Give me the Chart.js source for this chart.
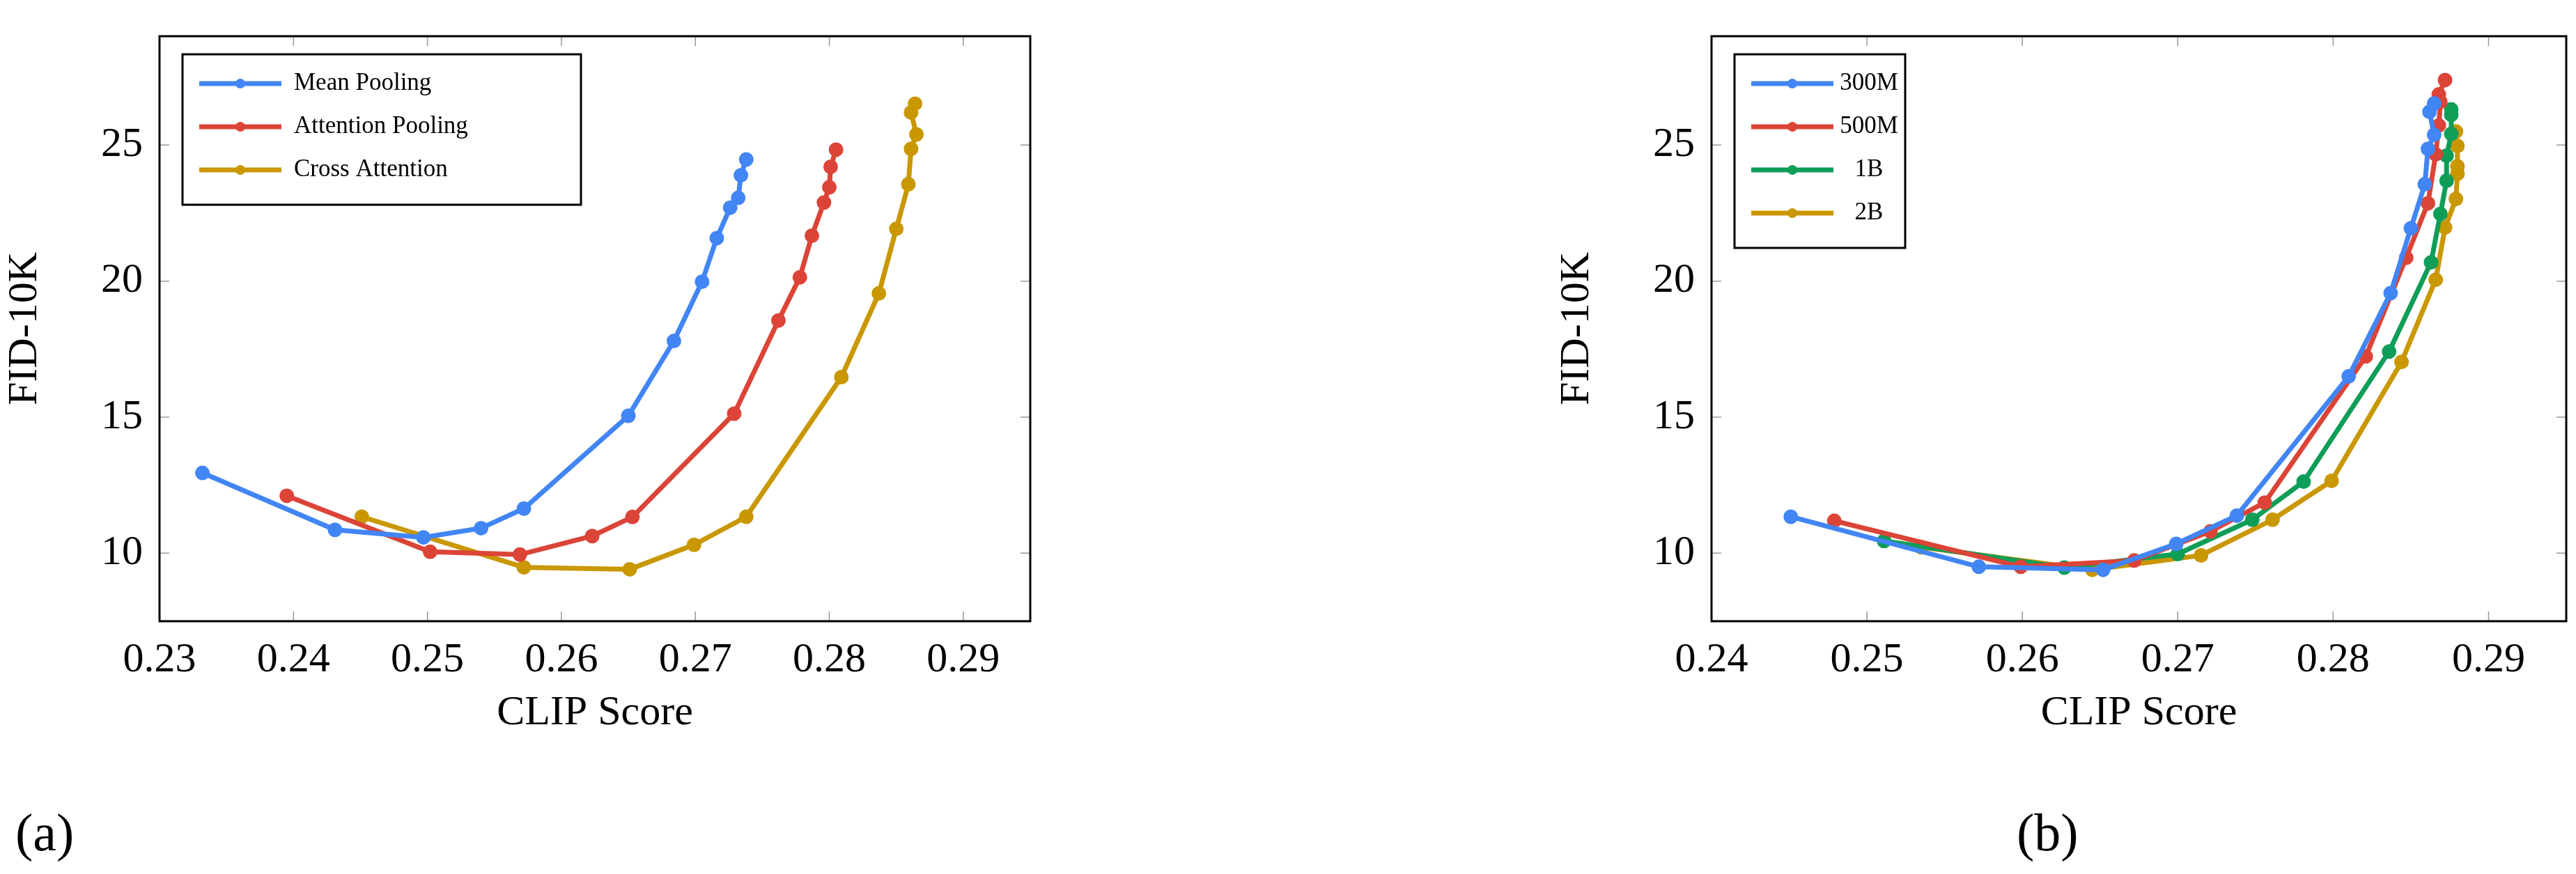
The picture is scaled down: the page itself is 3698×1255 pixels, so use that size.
<!DOCTYPE html>
<html><head><meta charset="utf-8">
<script src="https://cdn.jsdelivr.net/npm/chart.js@4/dist/chart.umd.min.js"></script>
<style>
body{margin:0;background:#fff;width:3698px;height:1255px;position:relative;overflow:hidden}
.c{position:absolute;top:0}
.lab{position:absolute;font-family:"Liberation Serif",serif;font-size:76px}
</style></head><body>
<div class="c" style="left:0;width:1530px;height:1060px"><canvas id="a"></canvas></div>
<div class="c" style="left:2228px;width:1470px;height:1060px"><canvas id="b"></canvas></div>
<div class="lab" style="left:22px;top:1152px">(a)</div>
<div class="lab" style="left:2895px;top:1152px">(b)</div>
<script>
const meanX=[0.2332,0.2431,0.2497,0.2540,0.2572,0.2650,0.2684,0.2705,0.2716,0.2726,0.2732,0.2734,0.2738];
const meanY=[12.95,10.86,10.58,10.92,11.64,15.05,17.80,19.98,21.58,22.70,23.06,23.89,24.47];
const attnX=[0.2395,0.2502,0.2569,0.2623,0.2653,0.2729,0.2762,0.2778,0.2787,0.2796,0.2800,0.2801,0.2805];
const attnY=[12.11,10.05,9.95,10.63,11.33,15.13,18.55,20.14,21.67,22.89,23.45,24.20,24.83];
const crossX=[0.2451,0.2572,0.2651,0.2699,0.2738,0.2809,0.2837,0.2850,0.2859,0.2861,0.2865,0.2861,0.2864];
const crossY=[11.34,9.48,9.41,10.31,11.34,16.47,19.55,21.92,23.56,24.86,25.39,26.20,26.52];
const m300X=[0.2451,0.2572,0.2652,0.2699,0.2738,0.2810,0.2837,0.2850,0.2859,0.2861,0.2865,0.2862,0.2865];
const m300Y=[11.34,9.50,9.39,10.34,11.38,16.50,19.56,21.94,23.56,24.86,25.38,26.22,26.53];
const m500X=[0.2479,0.2599,0.2672,0.2721,0.2756,0.2821,0.2847,0.2861,0.2866,0.2868,0.2869,0.2868,0.2872];
const m500Y=[11.19,9.50,9.73,10.80,11.86,17.23,20.86,22.86,24.66,25.72,26.59,26.86,27.39];
const b1X=[0.2511,0.2627,0.2700,0.2748,0.2781,0.2836,0.2863,0.2869,0.2873,0.2873,0.2876,0.2876,0.2876];
const b1Y=[10.45,9.47,9.97,11.23,12.63,17.41,20.69,22.47,23.69,24.61,25.41,26.11,26.31];
const b2X=[0.2535,0.2645,0.2715,0.2761,0.2799,0.2844,0.2866,0.2872,0.2879,0.2880,0.2880,0.2880,0.2879];
const b2Y=[10.22,9.39,9.92,11.23,12.66,17.03,20.05,21.97,23.02,23.94,24.22,24.97,25.50];
const leftTicks=[0.23,0.24,0.25,0.26,0.27,0.28,0.29];
const rightTicks=[0.24,0.25,0.26,0.27,0.28,0.29];
const yTicks=[10,15,20,25];
const labelsA=['Mean Pooling','Attention Pooling','Cross Attention'];
const labelsB=['300M','500M','1B','2B'];
const BLUE='#4285F4',RED='#DB4437',GREEN='#0F9D58',GOLD='#C99700';
const F='"Liberation Serif",serif';
function ds(label,xs,ys,c){return {label,data:xs.map((x,i)=>({x,y:ys[i]})),borderColor:c,backgroundColor:c,borderWidth:7,pointRadius:7,pointHoverRadius:7,showLine:true,tension:0};}
const frame={id:'frame',afterDraw(ch,a,o){const {ctx,chartArea:ca,scales}=ch;ctx.save();
 ctx.strokeStyle='#999';ctx.lineWidth=1.5;const L=14;
 scales.x.ticks.forEach(t=>{const px=scales.x.getPixelForValue(t.value);ctx.beginPath();ctx.moveTo(px,ca.bottom);ctx.lineTo(px,ca.bottom-L);ctx.moveTo(px,ca.top);ctx.lineTo(px,ca.top+L);ctx.stroke();});
 scales.y.ticks.forEach(t=>{const py=scales.y.getPixelForValue(t.value);ctx.beginPath();ctx.moveTo(ca.left,py);ctx.lineTo(ca.left+L,py);ctx.moveTo(ca.right,py);ctx.lineTo(ca.right-L,py);ctx.stroke();});
 ctx.strokeStyle='#000';ctx.lineWidth=3;ctx.strokeRect(ca.left,ca.top,ca.right-ca.left,ca.bottom-ca.top);
 const bx=ca.left+33,by=ca.top+26,bw=o.w,rows=ch.data.datasets.length,rh=62,bh=rows*rh+30;
 ctx.fillStyle='#fff';ctx.fillRect(bx,by,bw,bh);ctx.strokeRect(bx,by,bw,bh);
 ctx.font='35px '+F;ctx.textBaseline='middle';
 ch.data.datasets.forEach((d,i)=>{const y=by+42+i*rh;ctx.strokeStyle=d.borderColor;ctx.lineWidth=7;ctx.beginPath();ctx.moveTo(bx+24,y);ctx.lineTo(bx+142,y);ctx.stroke();
  ctx.fillStyle=d.borderColor;ctx.beginPath();ctx.arc(bx+83,y,7,0,7);ctx.fill();
  ctx.fillStyle='#000';if(o.center){ctx.textAlign='center';ctx.fillText(d.label,bx+193,y);}else{ctx.textAlign='left';ctx.fillText(d.label,bx+160,y);}});
 ctx.restore();}};
function make(id,datasets,xmin,ticks,lw,center,pr){
 new Chart(document.getElementById(id),{type:'scatter',data:{datasets},plugins:[frame],
 options:{responsive:true,maintainAspectRatio:false,animation:false,layout:{padding:{top:16,right:pr}},
 plugins:{legend:{display:false},tooltip:{enabled:false},frame:{w:lw,center}},
 scales:{x:{type:'linear',min:xmin,max:0.295,afterBuildTicks(s){s.ticks=ticks.map(v=>({value:v}));},afterFit(s){s.height=168;},
   grid:{display:false},border:{display:false},ticks:{font:{family:F,size:60},color:'#000',padding:12,maxRotation:0,callback:v=>v.toFixed(2)},
   title:{display:true,text:'CLIP Score',font:{family:F,size:60},color:'#000',padding:{top:0,bottom:0}}},
  y:{min:7.5,max:29,afterBuildTicks(s){s.ticks=yTicks.map(v=>({value:v}));},afterFit(s){s.width=229;},
   grid:{display:false},border:{display:false},ticks:{font:{family:F,size:60},color:'#000',padding:16},
   title:{display:true,text:'FID-10K',font:{family:F,size:60},color:'#000',padding:{top:0,bottom:0}}}}}});
}
make('a',[ds(labelsA[0],meanX,meanY,BLUE),ds(labelsA[1],attnX,attnY,RED),ds(labelsA[2],crossX,crossY,GOLD)],0.23,leftTicks,572,false,51);
make('b',[ds(labelsB[0],m300X,m300Y,BLUE),ds(labelsB[1],m500X,m500Y,RED),ds(labelsB[2],b1X,b1Y,GREEN),ds(labelsB[3],b2X,b2Y,GOLD)],0.24,rightTicks,245,true,12);
</script></body></html>
